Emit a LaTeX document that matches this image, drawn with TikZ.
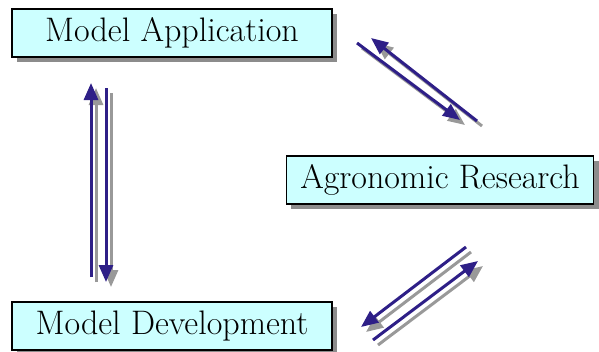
\documentclass[tikz,border=0pt]{standalone}
\usepackage{tikz}
\usetikzlibrary{arrows.meta,shadows}

\definecolor{navy}{RGB}{46,31,135}
\definecolor{boxfill}{RGB}{204,255,255}

\tikzset{
  stage/.style={draw=black, line width=1.2pt, fill=boxfill, inner xsep=14pt,
    minimum height=48pt, font=\fontsize{34}{40}\selectfont,
    drop shadow={shadow xshift=5pt, shadow yshift=-5pt, fill=black!45, opacity=1}},
  flow/.style={line width=3pt, -{Triangle[length=17pt,width=14pt]}},
}

% arrow with its gray shadow
\newcommand\flowarrow[2]{%
  \draw[flow, black!40, transform canvas={shift={(5pt,-5pt)}}] (#1) -- (#2);
  \draw[flow, navy] (#1) -- (#2);
}

\begin{document}
\begin{tikzpicture}[x=1pt, y=-1pt]
  \useasboundingbox (0,0) rectangle (599,351);

  % the three stages
  \node[stage, minimum width=320pt] (app) at (172,33) {Model Application};
  \node[stage] (res) at (440,180) {Agronomic Research};
  \node[stage, minimum width=320pt] (dev) at (172,326) {Model Development};

  % arrow ends
  \coordinate (up0) at (91,277);   \coordinate (up1) at (91,83);
  \coordinate (dn0) at (106,88);   \coordinate (dn1) at (106,282);
  \coordinate (ar0) at (357,43);   \coordinate (ar1) at (460,120);
  \coordinate (ra0) at (477,121);  \coordinate (ra1) at (371,38);
  \coordinate (rd0) at (466,247);  \coordinate (rd1) at (361,327);
  \coordinate (dr0) at (373,340);  \coordinate (dr1) at (478,261);

  % between the stages
  \flowarrow{up0}{up1}
  \flowarrow{dn0}{dn1}
  \flowarrow{ar0}{ar1}
  \flowarrow{ra0}{ra1}
  \flowarrow{rd0}{rd1}
  \flowarrow{dr0}{dr1}

\end{tikzpicture}
\end{document}
